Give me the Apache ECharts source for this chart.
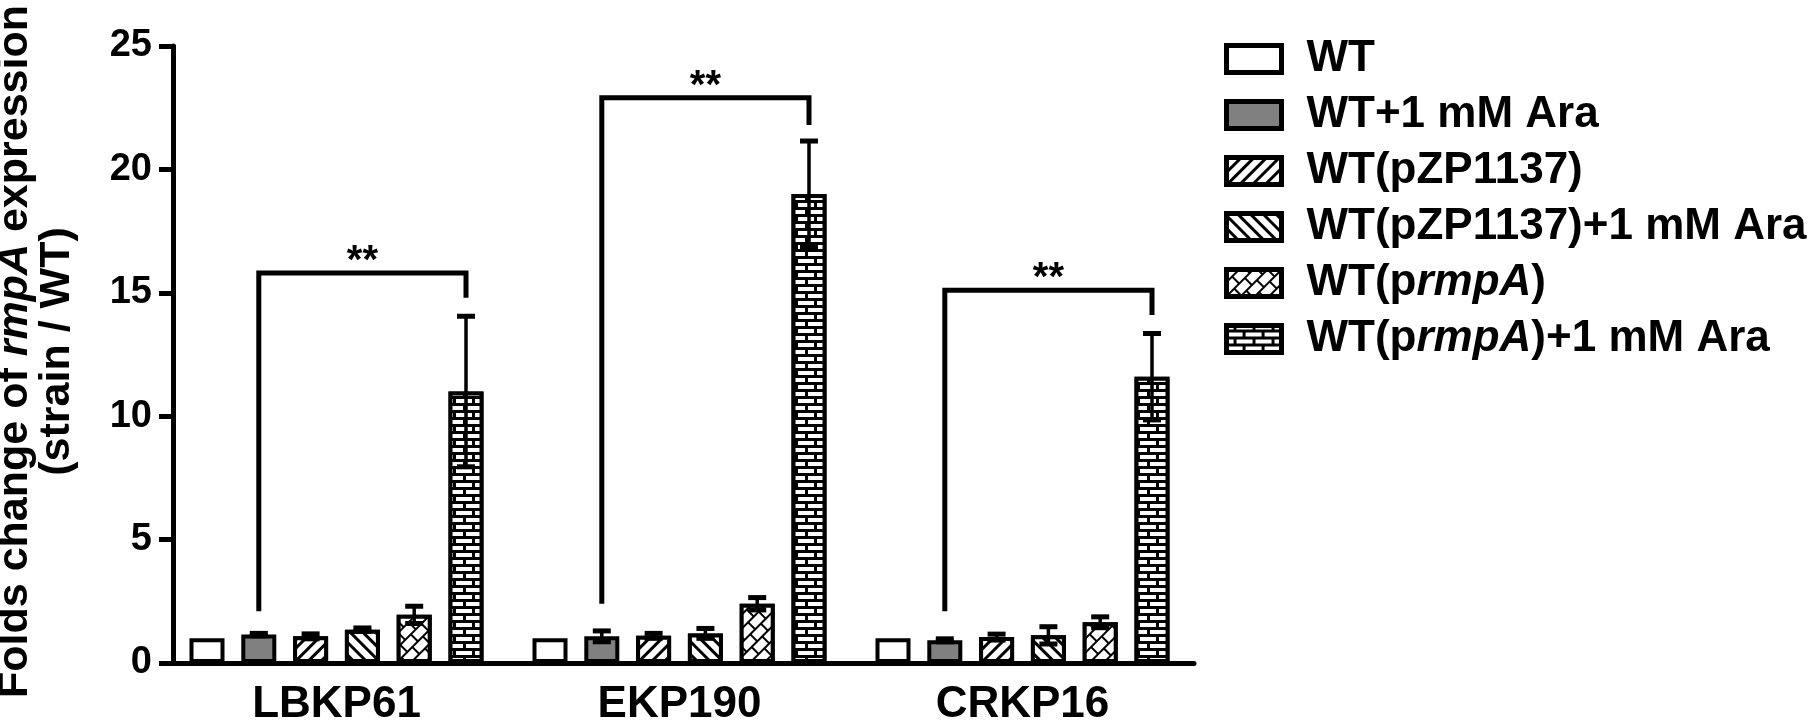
<!DOCTYPE html>
<html><head><meta charset="utf-8">
<script src="https://cdn.jsdelivr.net/npm/echarts@6/dist/echarts.min.js"></script>
<style>html,body{margin:0;padding:0;background:#fff}#c{width:1808px;height:726px}</style>
</head><body><div id="c"></div>
<script>
// ---- data ----
const categories = ['LBKP61', 'EKP190', 'CRKP16'];
const seriesNames = ['WT', 'WT+1 mM Ara', 'WT(pZP1137)', 'WT(pZP1137)+1 mM Ara', 'WT(prmpA)', 'WT(prmpA)+1 mM Ara'];
const wtMean        = [1.0, 1.0, 1.0];
const wtErr         = [0, 0, 0];
const wtAraMean     = [1.15, 1.08, 0.92];
const wtAraErr      = [0.05, 0.22, 0.06];
const pzpMean       = [1.08, 1.10, 1.05];
const pzpErr        = [0.10, 0.10, 0.12];
const pzpAraMean    = [1.35, 1.20, 1.12];
const pzpAraErr     = [0.07, 0.20, 0.35];
const prmpAMean     = [1.95, 2.40, 1.65];
const prmpAErr      = [0.35, 0.25, 0.22];
const prmpAAraMean  = [11.0, 19.0, 11.6];
const prmpAAraErr   = [3.05, 2.15, 1.75];
// significance brackets (between bar index sigFrom and sigTo in each group)
const sigFrom = 1, sigTo = 5;
const bracketTop      = [15.8, 22.9, 15.1];
const bracketLeftEnd  = [2.1, 2.4, 2.1];
const bracketRightEnd = [14.8, 21.8, 14.1];
const sigLabels       = ['**', '**', '**'];
// axis ticks
const yMin = 0, yMax = 25, yInterval = 5;

// ---- style ----
const FONT = 'Liberation Sans, Arial, sans-serif';
const BAR_W = 35, BAR_GAP = 0.48, N = seriesNames.length;
const means = [wtMean, wtAraMean, pzpMean, pzpAraMean, prmpAMean, prmpAAraMean];
const errs  = [wtErr, wtAraErr, pzpErr, pzpAraErr, prmpAErr, prmpAAraErr];
const decals = [
  null,
  null,
  {symbol: 'rect', symbolSize: 1, color: '#000', backgroundColor: '#fff', dashArrayX: [1, 0], dashArrayY: [3, 6], rotation: -Math.PI / 4},
  {symbol: 'rect', symbolSize: 1, color: '#000', backgroundColor: '#fff', dashArrayX: [1, 0], dashArrayY: [3, 6], rotation: Math.PI / 4},
  {symbol: 'rect', symbolSize: 1, color: '#fff', backgroundColor: '#000', dashArrayX: [[13, 2], [6, 2, 7, 0]], dashArrayY: [8, 2], rotation: -Math.PI / 4},
  {symbol: 'rect', symbolSize: 1, color: '#fff', backgroundColor: '#000', dashArrayX: [[16, 3], [7, 3, 9, 0]], dashArrayY: [4, 3], rotation: 0}
];
const fills = ['#ffffff', '#808080', '#ffffff', '#ffffff', '#000000', '#000000'];

function off(k) { return (k - (N - 1) / 2) * BAR_W * (1 + BAR_GAP); }

const barSeries = seriesNames.map((name, k) => ({
  name, type: 'bar', barWidth: BAR_W, barGap: (BAR_GAP * 100) + '%',
  data: means[k],
  itemStyle: Object.assign({color: fills[k], borderColor: '#000', borderWidth: 4},
    decals[k] ? {decal: decals[k]} : {}),
  emphasis: {disabled: true}, z: 2
}));

const errData = [];
means.forEach((arr, k) => arr.forEach((m, c) => errData.push([c, k, m, errs[k][c]])));

const errSeries = {
  type: 'custom', name: 'err', z: 5, data: errData, encode: {x: 0, y: 2},
  renderItem(params, api) {
    const c = api.value(0), k = api.value(1), m = api.value(2), e = api.value(3);
    if (!e) return null;
    const x = api.coord([c, m])[0] + off(k);
    const yT = api.coord([c, m + e])[1], yB = api.coord([c, m - e])[1];
    const hw = 9;
    return {type: 'group', children: [
      {type: 'line', shape: {x1: x, y1: yT, x2: x, y2: yB}, style: {stroke: '#000', lineWidth: 3.5}},
      {type: 'line', shape: {x1: x - hw, y1: yT, x2: x + hw, y2: yT}, style: {stroke: '#000', lineWidth: 5}},
      {type: 'line', shape: {x1: x - hw, y1: yB, x2: x + hw, y2: yB}, style: {stroke: '#000', lineWidth: 5}}
    ]};
  }
};

const brData = categories.map((_, c) => [c, bracketTop[c], bracketLeftEnd[c], bracketRightEnd[c]]);
const brSeries = {
  type: 'custom', name: 'sig', z: 6, data: brData, encode: {x: 0, y: 1},
  renderItem(params, api) {
    const c = api.value(0);
    const cx = api.coord([c, 0])[0];
    const xL = cx + off(sigFrom), xR = cx + off(sigTo);
    const yTop = api.coord([c, api.value(1)])[1];
    const yL = api.coord([c, api.value(2)])[1];
    const yR = api.coord([c, api.value(3)])[1];
    return {type: 'group', children: [
      {type: 'polyline', shape: {points: [[xL, yL], [xL, yTop], [xR, yTop], [xR, yR]]},
        style: {stroke: '#000', lineWidth: 5, fill: null, lineJoin: 'miter'}},
      {type: 'text', style: {text: sigLabels[params.dataIndex], x: (xL + xR) / 2, y: yTop - 11,
        align: 'center', verticalAlign: 'middle', font: 'bold 40px ' + FONT, fill: '#000'}}
    ]};
  }
};

function legendFmt(name) {
  if (name.indexOf('prmpA') >= 0) {
    const parts = name.split('rmpA');
    return '{n|' + parts[0] + '}{i|rmpA}{n|' + parts[1] + '}';
  }
  return '{n|' + name + '}';
}

const chart = echarts.init(document.getElementById('c'), null, {renderer: 'canvas'});
chart.setOption({
  animation: false,
  backgroundColor: '#fff',
  grid: {left: 165, right: 614, top: 46, bottom: 63, containLabel: false, outerBoundsMode: 'none'},
  legend: {
    orient: 'vertical', left: 1224, top: 37, padding: 0, itemGap: 12,
    itemWidth: 55, itemHeight: 27, icon: 'rect', selectedMode: false,
    data: seriesNames,
    itemStyle: {borderColor: '#000', borderWidth: 5},
    formatter: legendFmt,
    textStyle: {
      padding: [0, 0, 0, 20],
      rich: {
        n: {fontSize: 44, fontWeight: 'bold', fontFamily: FONT, color: '#000', lineHeight: 44},
        i: {fontSize: 44, fontWeight: 'bold', fontStyle: 'italic', fontFamily: FONT, color: '#000', lineHeight: 44}
      }
    }
  },
  xAxis: {
    type: 'category', data: categories, boundaryGap: true,
    axisLine: {lineStyle: {color: '#000', width: 5}},
    axisTick: {alignWithLabel: true, length: 12, lineStyle: {color: '#000', width: 5}},
    axisLabel: {color: '#000', fontSize: 44, fontWeight: 'bold', fontFamily: FONT, margin: 20}
  },
  yAxis: {
    type: 'value', min: yMin, max: yMax, interval: yInterval, offset: -8,
    splitLine: {show: false},
    axisLine: {show: true, lineStyle: {color: '#000', width: 5}},
    axisTick: {show: true, length: 14, lineStyle: {color: '#000', width: 5}},
    axisLabel: {color: '#000', fontSize: 38, fontWeight: 'bold', fontFamily: FONT, margin: 21},
    name: '{n|Folds change of }{i|rmpA}{n| expression}\n{n|(strain / WT)}',
    nameLocation: 'middle', nameRotate: 90, nameGap: 95,
    nameTextStyle: {
      padding: [0, 0, 0, 6],
      rich: {
        n: {fontSize: 43, fontWeight: 'bold', fontFamily: FONT, color: '#000', lineHeight: 42},
        i: {fontSize: 43, fontWeight: 'bold', fontStyle: 'italic', fontFamily: FONT, color: '#000', lineHeight: 42}
      }
    }
  },
  series: barSeries.concat([errSeries, brSeries])
});
</script>
</body></html>
